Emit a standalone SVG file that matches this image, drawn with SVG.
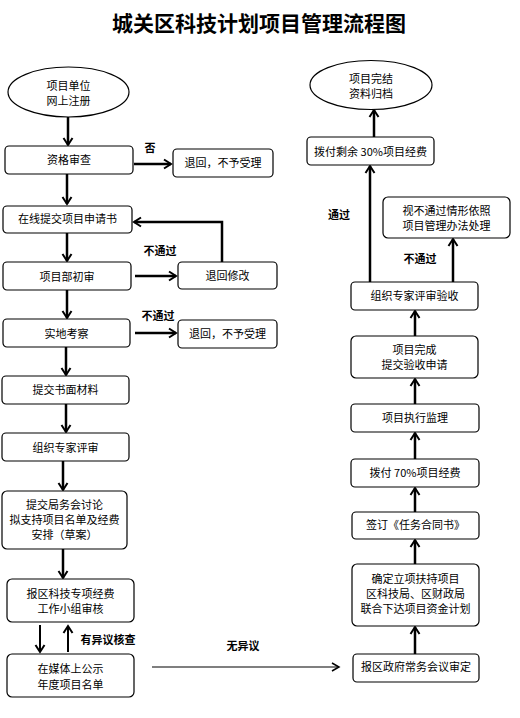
<svg xmlns="http://www.w3.org/2000/svg" width="520" height="718" viewBox="0 0 520 718">
<defs>
<marker id="ah" markerUnits="userSpaceOnUse" markerWidth="12" markerHeight="12" refX="9" refY="6" orient="auto">
<path d="M2,1.5 L9,6 L2,10.5" fill="none" stroke="#000" stroke-width="2"/>
</marker>
<marker id="ahs" markerUnits="userSpaceOnUse" markerWidth="12" markerHeight="12" refX="9" refY="6" orient="auto">
<path d="M2,2 L9,6 L2,10" fill="none" stroke="#000" stroke-width="1.5"/>
</marker>
<style>
.n rect,.n ellipse{fill:#fff;stroke:#000;stroke-width:1.2}
.t{font-family:"Noto Sans CJK SC","Liberation Sans",sans-serif;font-size:11px;text-anchor:middle;dominant-baseline:central;fill:#000}
.l{font-family:"Noto Sans CJK SC","Liberation Sans",sans-serif;font-size:11px;font-weight:bold;text-anchor:middle;dominant-baseline:central;fill:#000}
.c{fill:none;stroke:#000;stroke-width:2.5;marker-end:url(#ah)}
.m{fill:none;stroke:#000;stroke-width:2;marker-end:url(#ah)}
.s{fill:none;stroke:#000;stroke-width:1.2;marker-end:url(#ahs)}
</style>
</defs>
<rect width="520" height="718" fill="#fff"/>
<text x="259" y="22" style="font-family:'Noto Sans CJK SC',sans-serif;font-size:21px;font-weight:bold;text-anchor:middle;dominant-baseline:central">城关区科技计划项目管理流程图</text>

<g id="connectors">
<path class="c" d="M68,117 V145"/>
<path class="c" d="M134,164 H171"/>
<path class="c" d="M67,174 V204"/>
<path class="c" d="M67,233 V261"/>
<path class="c" d="M135,276 H176"/>
<path class="c" d="M222,262 V222 H134"/>
<path class="c" d="M67,290 V318"/>
<path class="c" d="M135,333 H176"/>
<path class="c" d="M66,347 V375"/>
<path class="c" d="M66,404 V432"/>
<path class="c" d="M63,461 V490"/>
<path class="c" d="M63,549 V578"/>
<path class="m" d="M40,625 V652"/>
<path class="m" d="M68,652 V626"/>
<path class="s" d="M152,667 H339"/>
<path class="c" d="M415,654 V627"/>
<path class="c" d="M415,564 V540"/>
<path class="c" d="M415,512 V488"/>
<path class="c" d="M415,459 V433"/>
<path class="c" d="M415,404 V379"/>
<path class="c" d="M415,336 V311"/>
<path class="c" d="M370,282 V166"/>
<path class="c" d="M453,282 V239"/>
<path class="c" d="M374,137 V110"/>
<text class="l" x="150" y="147">否</text>
<text class="l" x="160" y="250">不通过</text>
<text class="l" x="158" y="315">不通过</text>
<text class="l" x="108" y="639">有异议核查</text>
<text class="l" x="243" y="645">无异议</text>
<text class="l" x="339" y="214">通过</text>
<text class="l" x="420" y="258">不通过</text>
</g>

<g id="n1" class="n"><ellipse cx="68.5" cy="92" rx="60.5" ry="25"/><text class="t" x="68.5" y="85">项目单位</text><text class="t" x="68.5" y="100">网上注册</text></g>
<g id="n2" class="n"><rect x="5" y="146" width="128" height="28" rx="4"/><text class="t" x="69" y="159">资格审查</text></g>
<g id="n3" class="n"><rect x="173" y="149" width="100" height="28" rx="4"/><text class="t" x="223" y="162">退回，不予受理</text></g>
<g id="n4" class="n"><rect x="3" y="206" width="129" height="27" rx="4"/><text class="t" x="67.5" y="218">在线提交项目申请书</text></g>
<g id="n5" class="n"><rect x="3" y="262" width="128" height="28" rx="4"/><text class="t" x="67" y="276">项目部初审</text></g>
<g id="n6" class="n"><rect x="178" y="262" width="99" height="27" rx="4"/><text class="t" x="227.5" y="275">退回修改</text></g>
<g id="n7" class="n"><rect x="3" y="319" width="127" height="28" rx="4"/><text class="t" x="66.5" y="333">实地考察</text></g>
<g id="n8" class="n"><rect x="178" y="320" width="99" height="28" rx="4"/><text class="t" x="227.5" y="333">退回，不予受理</text></g>
<g id="n9" class="n"><rect x="2" y="376" width="127" height="28" rx="4"/><text class="t" x="65.5" y="389">提交书面材料</text></g>
<g id="n10" class="n"><rect x="2" y="433" width="127" height="28" rx="4"/><text class="t" x="65.5" y="447">组织专家评审</text></g>
<g id="n11" class="n"><rect x="2" y="491" width="125" height="58" rx="5"/><text class="t" x="64.5" y="504">提交局务会讨论</text><text class="t" x="64.5" y="519">拟支持项目名单及经费</text><text class="t" x="64.5" y="534">安排（草案）</text></g>
<g id="n12" class="n"><rect x="7" y="579" width="127" height="43" rx="5"/><text class="t" x="70.5" y="593">报区科技专项经费</text><text class="t" x="70.5" y="608">工作小组审核</text></g>
<g id="n13" class="n"><rect x="7" y="654" width="127" height="43" rx="5"/><text class="t" x="70.5" y="668">在媒体上公示</text><text class="t" x="70.5" y="684">年度项目名单</text></g>
<g id="n14" class="n"><rect x="353" y="654" width="126" height="28" rx="4"/><text class="t" x="416" y="666">报区政府常务会议审定</text></g>
<g id="n15" class="n"><rect x="352" y="564" width="127" height="62" rx="5"/><text class="t" x="415.5" y="578">确定立项扶持项目</text><text class="t" x="415.5" y="593">区科技局、区财政局</text><text class="t" x="415.5" y="608">联合下达项目资金计划</text></g>
<g id="n16" class="n"><rect x="352" y="512" width="127" height="27" rx="4"/><text class="t" x="415.5" y="524">签订《任务合同书》</text></g>
<g id="n17" class="n"><rect x="351" y="459" width="128" height="28" rx="4"/><text class="t" x="415" y="472">拨付 70%项目经费</text></g>
<g id="n18" class="n"><rect x="351" y="404" width="128" height="28" rx="4"/><text class="t" x="415" y="417">项目执行监理</text></g>
<g id="n19" class="n"><rect x="351" y="336" width="127" height="42" rx="5"/><text class="t" x="414.5" y="349">项目完成</text><text class="t" x="414.5" y="364">提交验收申请</text></g>
<g id="n20" class="n"><rect x="351" y="282" width="127" height="28" rx="4"/><text class="t" x="414.5" y="295">组织专家评审验收</text></g>
<g id="n21" class="n"><rect x="383" y="197" width="127" height="41" rx="5"/><text class="t" x="446.5" y="210">视不通过情形依照</text><text class="t" x="446.5" y="225">项目管理办法处理</text></g>
<g id="n22" class="n"><rect x="307" y="137" width="127" height="28" rx="4"/><text class="t" x="370.5" y="151">拨付剩余 30%项目经费</text></g>
<g id="n23" class="n"><ellipse cx="371" cy="85" rx="61" ry="24.5"/><text class="t" x="371" y="78">项目完结</text><text class="t" x="371" y="93">资料归档</text></g>
</svg>
